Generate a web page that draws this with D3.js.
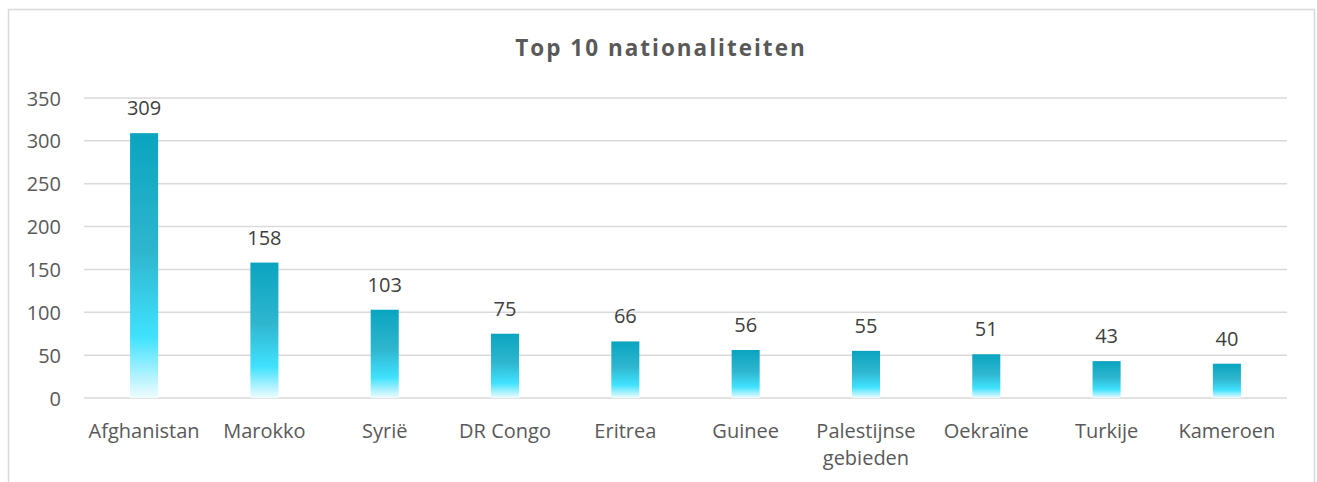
<!DOCTYPE html>
<html><head><meta charset="utf-8">
<script src="https://cdn.jsdelivr.net/npm/d3@7"></script>
<style>body{margin:0;background:#fff;} svg{display:block;font-family:"Open Sans",sans-serif;}</style>
</head><body>
<svg id="c" width="1317" height="482"></svg>
<script>
const categories = ["Afghanistan","Marokko","Syrië","DR Congo","Eritrea","Guinee","Palestijnse gebieden","Oekraïne","Turkije","Kameroen"];
const values = [309,158,103,75,66,56,55,51,43,40];
const yTicks = [0,50,100,150,200,250,300,350];
const title = "Top 10 nationaliteiten";

const svg = d3.select("#c");
const W = 1317, H = 482;
const m = {left:84, right:30, top:98, bottom:84};
svg.append("rect").attr("x",8.5).attr("y",9.5).attr("width",1306).attr("height",490)
  .attr("fill","#fff").attr("stroke","#d9d9d9").attr("stroke-width",1.5);

const defs = svg.append("defs");
const g = defs.append("linearGradient").attr("id","bg").attr("x1",0).attr("y1",0).attr("x2",0).attr("y2",1);
[[0,"#0aa4c0"],[0.45,"#2fb6cf"],[0.77,"#40e2ff"],[1,"#effcff"]].forEach(s=>g.append("stop").attr("offset",s[0]).attr("stop-color",s[1]));

const x = d3.scaleBand().domain(categories).range([m.left, W-m.right]).paddingInner(0.767).paddingOuter(0.383);
const y = d3.scaleLinear().domain([0,350]).range([H-m.bottom, m.top]);

svg.append("text").attr("x",661).attr("y",56).attr("text-anchor","middle")
  .attr("font-size",22.5).attr("font-weight","bold").attr("fill","#595959").attr("letter-spacing",2).text(title);

const grid = svg.append("g");
grid.selectAll("line").data(yTicks).join("line")
  .attr("x1",m.left).attr("x2",W-m.right).attr("y1",d=>y(d)).attr("y2",d=>y(d))
  .attr("stroke","#d9d9d9").attr("stroke-width",1.5);

const yAxis = d3.axisLeft(y).tickValues(yTicks).tickSize(0).tickPadding(0);
const ya = svg.append("g").attr("transform",`translate(${m.left-23},0)`).call(yAxis);
ya.select(".domain").remove();
ya.selectAll("text").attr("font-size",20).attr("fill","#595959").attr("font-family","Open Sans").attr("dy","0.35em");

svg.append("g").selectAll("rect").data(values).join("rect")
  .attr("x",(d,i)=>x(categories[i])).attr("width",x.bandwidth())
  .attr("y",d=>y(d)).attr("height",d=>y(0)-y(d)).attr("fill","url(#bg)");

svg.append("g").selectAll("text").data(values).join("text")
  .attr("x",(d,i)=>x(categories[i])+x.bandwidth()/2).attr("y",d=>y(d)-18)
  .attr("text-anchor","middle").attr("font-size",20).attr("fill","#404040").text(d=>d);

const xl = svg.append("g");
categories.forEach((c,i)=>{
  const cx = x(c)+x.bandwidth()/2;
  const words = c==="Palestijnse gebieden" ? ["Palestijnse","gebieden"] : [c];
  const t = xl.append("text").attr("x",cx).attr("y",438).attr("text-anchor","middle")
    .attr("font-size",20).attr("fill","#595959");
  words.forEach((w,j)=>t.append("tspan").attr("x",cx).attr("dy",j?27:0).text(w));
});
</script>
</body></html>
